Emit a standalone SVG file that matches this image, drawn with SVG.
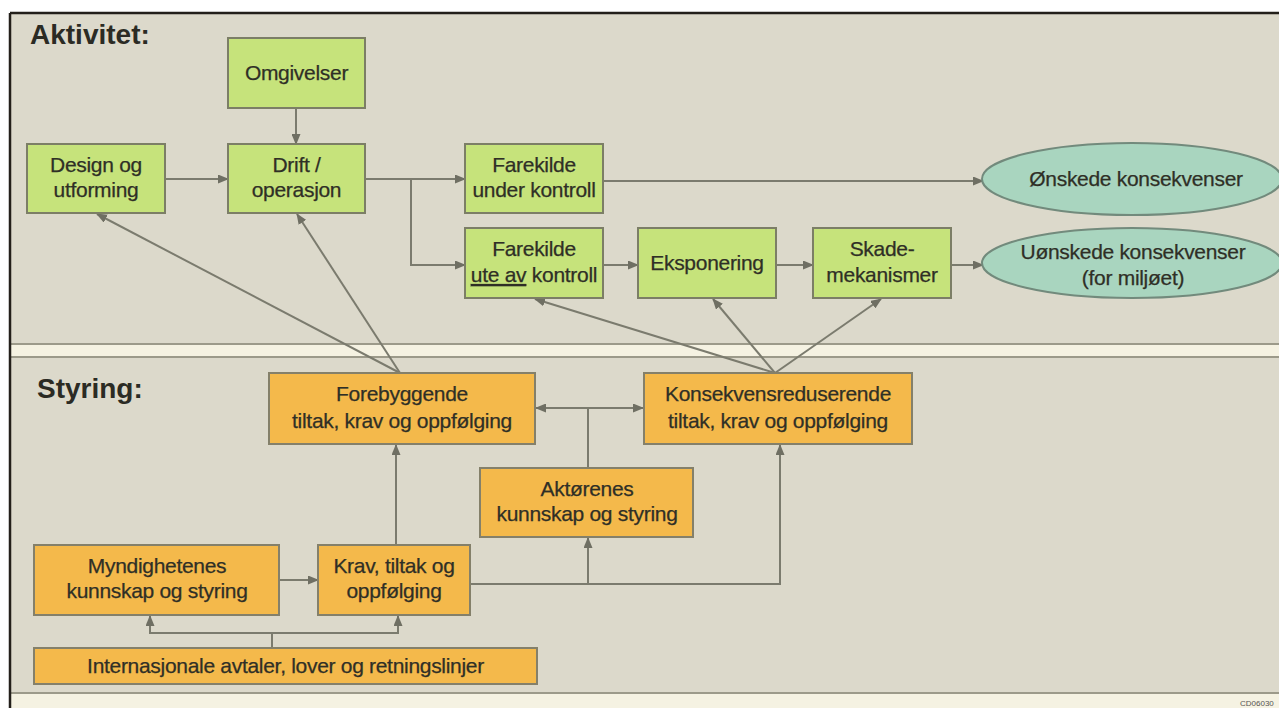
<svg xmlns="http://www.w3.org/2000/svg" width="1279" height="708" viewBox="0 0 1279 708">
  <style>
    .lbl { font-family: "Liberation Sans", Arial, sans-serif; font-size: 21px; fill: #2f2f26; stroke: #2f2f26; stroke-width: 0.25px; text-anchor: middle; letter-spacing: -0.3px; }
    .head { font-family: "Liberation Sans", Arial, sans-serif; font-weight: bold; font-size: 28px; fill: #2b2b24; }
    .green { fill: #c6e37b; stroke: #7c7e66; stroke-width: 2; }
    .orange { fill: #f4b94b; stroke: #84806a; stroke-width: 2; }
    .oval { fill: #a9d5bf; stroke: #728a7c; stroke-width: 2; }
    .edge { fill: none; stroke: #7b7b6e; stroke-width: 2; }
  </style>
  <defs>
    <marker id="arrow" markerUnits="userSpaceOnUse" markerWidth="11" markerHeight="9" refX="10" refY="4.5" orient="auto-start-reverse">
      <path d="M0,0 L11,4.5 L0,9 z" fill="#6f6f63"/>
    </marker>
  </defs>

  <!-- page and panels -->
  <rect x="0" y="0" width="1279" height="708" fill="#ffffff"/>
  <rect x="10" y="13" width="1269" height="695" fill="#dcd9cb"/>
  <rect x="10" y="345" width="1269" height="11" fill="#f5f2e2"/>
  <line x1="10" y1="344" x2="1279" y2="344" stroke="#9c9a8a" stroke-width="2"/>
  <line x1="10" y1="357" x2="1279" y2="357" stroke="#9c9a8a" stroke-width="2"/>
  <rect x="10" y="694" width="1269" height="14" fill="#f5f2e2"/>
  <line x1="10" y1="693" x2="1279" y2="693" stroke="#9c9a8a" stroke-width="2"/>
  <line x1="10" y1="13" x2="1279" y2="13" stroke="#231f1a" stroke-width="2.5"/>
  <line x1="10" y1="13" x2="10" y2="708" stroke="#231f1a" stroke-width="2.5"/>

  <text class="head" x="30" y="44">Aktivitet:</text>
  <text class="head" x="37" y="398">Styring:</text>
  <text x="1240" y="706" font-family="Liberation Sans, Arial, sans-serif" font-size="8" fill="#555">CD06030</text>

  <!-- connectors -->
  <g id="connectors">
    <path class="edge" d="M296,108 V144" marker-end="url(#arrow)"/>
    <path class="edge" d="M165,179 H228" marker-end="url(#arrow)"/>
    <path class="edge" d="M365,179 H465" marker-end="url(#arrow)"/>
    <path class="edge" d="M411,179 V265 H465" marker-end="url(#arrow)"/>
    <path class="edge" d="M603,181 H983" marker-end="url(#arrow)"/>
    <path class="edge" d="M603,265 H638" marker-end="url(#arrow)"/>
    <path class="edge" d="M776,265 H813" marker-end="url(#arrow)"/>
    <path class="edge" d="M951,265 H983" marker-end="url(#arrow)"/>

    <path class="edge" d="M400,373 L97,214" marker-end="url(#arrow)"/>
    <path class="edge" d="M400,373 L297,214" marker-end="url(#arrow)"/>
    <path class="edge" d="M775,373 L535,299" marker-end="url(#arrow)"/>
    <path class="edge" d="M775,373 L713,299" marker-end="url(#arrow)"/>
    <path class="edge" d="M775,373 L881,299" marker-end="url(#arrow)"/>

    <path class="edge" d="M536,408 H643" marker-start="url(#arrow)" marker-end="url(#arrow)"/>
    <path class="edge" d="M588,468 V408"/>
    <path class="edge" d="M279,580 H318" marker-end="url(#arrow)"/>
    <path class="edge" d="M396,545 V445" marker-end="url(#arrow)"/>
    <path class="edge" d="M470,584 H780 V445" marker-end="url(#arrow)"/>
    <path class="edge" d="M588,584 V538" marker-end="url(#arrow)"/>
    <path class="edge" d="M272,648 V633"/>
    <path class="edge" d="M272,633 H150 V616" marker-end="url(#arrow)"/>
    <path class="edge" d="M272,633 H398 V616" marker-end="url(#arrow)"/>
  </g>

  <!-- activity nodes -->
  <g id="omgivelser">
    <rect class="green" x="228" y="38" width="137" height="70"/>
    <text class="lbl" x="296.5" y="80">Omgivelser</text>
  </g>
  <g id="design">
    <rect class="green" x="27" y="144" width="138" height="69"/>
    <text class="lbl" x="96" y="172">Design og</text>
    <text class="lbl" x="96" y="197">utforming</text>
  </g>
  <g id="drift">
    <rect class="green" x="228" y="144" width="137" height="69"/>
    <text class="lbl" x="296.5" y="172">Drift /</text>
    <text class="lbl" x="296.5" y="197">operasjon</text>
  </g>
  <g id="farekilde-under">
    <rect class="green" x="465" y="144" width="138" height="69"/>
    <text class="lbl" x="534" y="172">Farekilde</text>
    <text class="lbl" x="534" y="197">under kontroll</text>
  </g>
  <g id="farekilde-ute">
    <rect class="green" x="465" y="228" width="138" height="70"/>
    <text class="lbl" x="534" y="256" font-size="19">Farekilde</text>
    <text class="lbl" x="534" y="282" font-size="19"><tspan text-decoration="underline">ute av</tspan> kontroll</text>
  </g>
  <g id="eksponering">
    <rect class="green" x="638" y="228" width="138" height="70"/>
    <text class="lbl" x="707" y="270">Eksponering</text>
  </g>
  <g id="skademekanismer">
    <rect class="green" x="813" y="228" width="138" height="70"/>
    <text class="lbl" x="882" y="256">Skade-</text>
    <text class="lbl" x="882" y="282">mekanismer</text>
  </g>
  <g id="onskede">
    <ellipse class="oval" cx="1132" cy="179" rx="150" ry="36"/>
    <text class="lbl" x="1136" y="186">Ønskede konsekvenser</text>
  </g>
  <g id="uonskede">
    <ellipse class="oval" cx="1132" cy="263" rx="150" ry="35"/>
    <text class="lbl" x="1133" y="259">Uønskede konsekvenser</text>
    <text class="lbl" x="1133" y="285">(for miljøet)</text>
  </g>

  <!-- management nodes -->
  <g id="forebyggende">
    <rect class="orange" x="269" y="373" width="266" height="71"/>
    <text class="lbl" x="402" y="401">Forebyggende</text>
    <text class="lbl" x="402" y="428">tiltak, krav og oppfølging</text>
  </g>
  <g id="konsekvensreduserende">
    <rect class="orange" x="644" y="373" width="268" height="71"/>
    <text class="lbl" x="778" y="401">Konsekvensreduserende</text>
    <text class="lbl" x="778" y="428">tiltak, krav og oppfølging</text>
  </g>
  <g id="aktorenes">
    <rect class="orange" x="480" y="468" width="213" height="69"/>
    <text class="lbl" x="587" y="496">Aktørenes</text>
    <text class="lbl" x="587" y="521">kunnskap og styring</text>
  </g>
  <g id="myndighetenes">
    <rect class="orange" x="34" y="545" width="245" height="70"/>
    <text class="lbl" x="157" y="573">Myndighetenes</text>
    <text class="lbl" x="157" y="598">kunnskap og styring</text>
  </g>
  <g id="krav">
    <rect class="orange" x="318" y="545" width="152" height="70"/>
    <text class="lbl" x="394" y="573">Krav, tiltak og</text>
    <text class="lbl" x="394" y="598">oppfølging</text>
  </g>
  <g id="internasjonale">
    <rect class="orange" x="34" y="648" width="503" height="36"/>
    <text class="lbl" x="285.5" y="673">Internasjonale avtaler, lover og retningslinjer</text>
  </g>
</svg>
